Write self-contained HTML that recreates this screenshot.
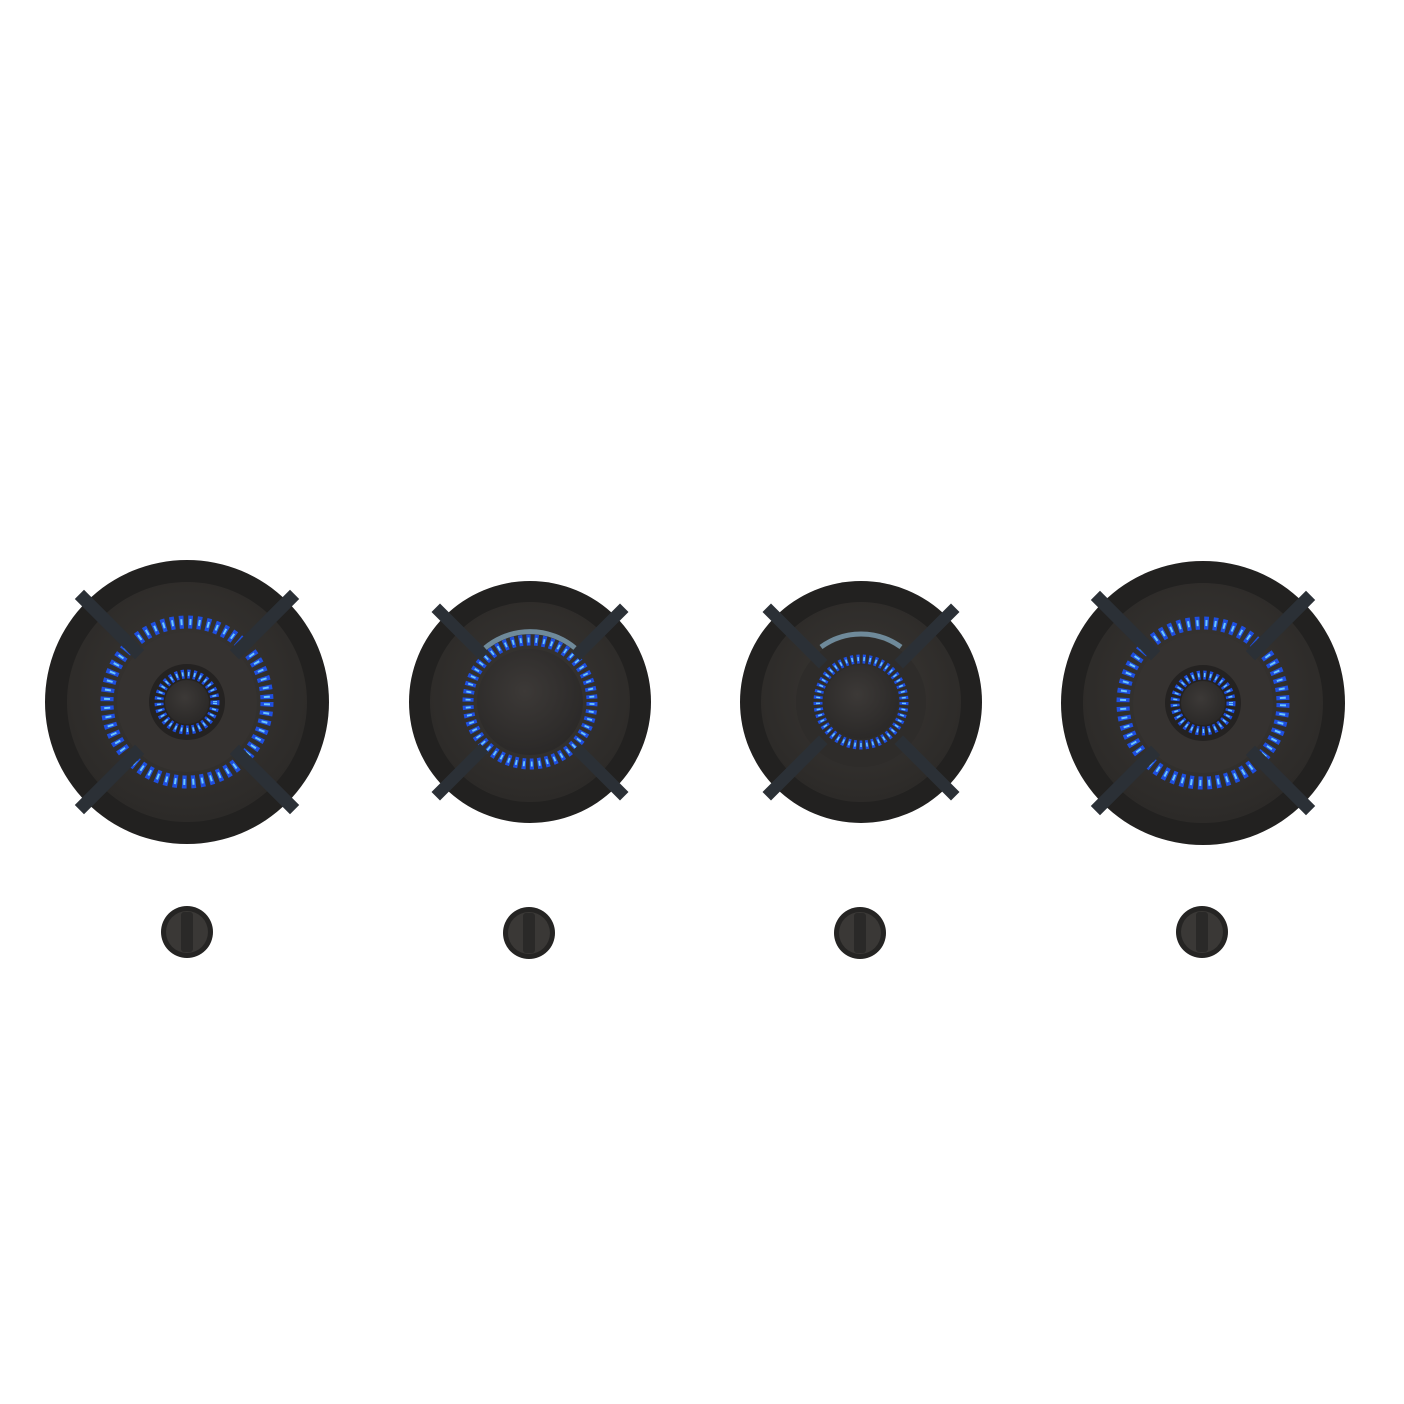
<!DOCTYPE html>
<html><head><meta charset="utf-8"><style>html,body{margin:0;padding:0;background:#fff}svg{display:block}</style></head>
<body>
<svg width="1404" height="1404" viewBox="0 0 1404 1404" xmlns="http://www.w3.org/2000/svg">
<defs>
<radialGradient id="plate" cx="50%" cy="45%" r="55%">
<stop offset="0" stop-color="#3a3734"/><stop offset="1" stop-color="#2c2a28"/></radialGradient>
<radialGradient id="cap" cx="45%" cy="40%" r="60%">
<stop offset="0" stop-color="#3c3937"/><stop offset="1" stop-color="#2b2928"/></radialGradient>
<g id="bars">
<g stroke="#2b3036" stroke-width="13" stroke-linecap="square">
<line x1="-103" y1="-103" x2="-50" y2="-50"/>
<line x1="103" y1="-103" x2="50" y2="-50"/>
<line x1="-103" y1="103" x2="-50" y2="50"/>
<line x1="103" y1="103" x2="50" y2="50"/>
</g></g>
</defs>
<rect width="1404" height="1404" fill="#fff"/>

<!-- Big burner template drawn twice -->
<g transform="translate(187,702)">
<circle r="142" fill="#222120"/>
<circle r="120" fill="url(#plate)"/>
<circle r="80" fill="none" stroke="#1f4fe0" stroke-width="13" stroke-dasharray="4.5 4.5"/>
<circle r="80" fill="none" stroke="#6ac6ff" stroke-width="6" stroke-dasharray="2 7" stroke-dashoffset="-1.3"/>
<circle r="70" fill="#353230"/>
<circle r="38" fill="#242221"/>
<circle r="28" fill="none" stroke="#1f4fe0" stroke-width="9" stroke-dasharray="3 3"/>
<circle r="28" fill="none" stroke="#6ac6ff" stroke-width="4" stroke-dasharray="1.5 4.5" stroke-dashoffset="-0.7"/>
<circle r="22" fill="url(#cap)"/>
<g stroke="#2b3036" stroke-width="13" stroke-linecap="square">
<line x1="-103" y1="-103" x2="-52" y2="-52"/><line x1="103" y1="-103" x2="52" y2="-52"/>
<line x1="-103" y1="103" x2="-52" y2="52"/><line x1="103" y1="103" x2="52" y2="52"/></g>
</g>
<g transform="translate(1203,703)">
<circle r="142" fill="#222120"/>
<circle r="120" fill="url(#plate)"/>
<circle r="80" fill="none" stroke="#1f4fe0" stroke-width="13" stroke-dasharray="4.5 4.5"/>
<circle r="80" fill="none" stroke="#6ac6ff" stroke-width="6" stroke-dasharray="2 7" stroke-dashoffset="-1.3"/>
<circle r="70" fill="#353230"/>
<circle r="38" fill="#242221"/>
<circle r="28" fill="none" stroke="#1f4fe0" stroke-width="9" stroke-dasharray="3 3"/>
<circle r="28" fill="none" stroke="#6ac6ff" stroke-width="4" stroke-dasharray="1.5 4.5" stroke-dashoffset="-0.7"/>
<circle r="22" fill="url(#cap)"/>
<g stroke="#2b3036" stroke-width="13" stroke-linecap="square">
<line x1="-103" y1="-103" x2="-52" y2="-52"/><line x1="103" y1="-103" x2="52" y2="-52"/>
<line x1="-103" y1="103" x2="-52" y2="52"/><line x1="103" y1="103" x2="52" y2="52"/></g>
</g>

<!-- Burner 2 -->
<g transform="translate(530,702)">
<circle r="121" fill="#222120"/>
<circle r="100" fill="url(#plate)"/>
<path d="M-45,-54 A70,70 0 0 1 45,-54" fill="none" stroke="#6f8a9a" stroke-width="5"/>
<circle r="62" fill="none" stroke="#1f4fe0" stroke-width="11" stroke-dasharray="4 3.8"/>
<circle r="62" fill="none" stroke="#6ac6ff" stroke-width="5" stroke-dasharray="1.8 6" stroke-dashoffset="-1.1"/>
<circle r="53" fill="url(#cap)"/>
<g stroke="#2b3036" stroke-width="12" stroke-linecap="square">
<line x1="-90" y1="-90" x2="-50" y2="-50"/><line x1="90" y1="-90" x2="50" y2="-50"/>
<line x1="-90" y1="90" x2="-50" y2="50"/><line x1="90" y1="90" x2="50" y2="50"/></g>
</g>

<!-- Burner 3 -->
<g transform="translate(861,702)">
<circle r="121" fill="#222120"/>
<circle r="100" fill="url(#plate)"/>
<circle r="65" fill="#2e2c2a"/>
<path d="M-40,-55 A68,68 0 0 1 40,-55" fill="none" stroke="#6f8a9a" stroke-width="5"/>
<circle r="43" fill="none" stroke="#1f4fe0" stroke-width="9" stroke-dasharray="3 3"/>
<circle r="43" fill="none" stroke="#6ac6ff" stroke-width="4" stroke-dasharray="1.5 4.5" stroke-dashoffset="-0.7"/>
<circle r="37" fill="url(#cap)"/>
<g stroke="#2b3036" stroke-width="12" stroke-linecap="square">
<line x1="-90" y1="-90" x2="-42" y2="-42"/><line x1="90" y1="-90" x2="42" y2="-42"/>
<line x1="-90" y1="90" x2="-42" y2="42"/><line x1="90" y1="90" x2="42" y2="42"/></g>
</g>

<!-- Knobs -->
<g fill="#252423">
<circle cx="187" cy="932" r="26"/><circle cx="529" cy="933" r="26"/>
<circle cx="860" cy="933" r="26"/><circle cx="1202" cy="932" r="26"/>
</g>
<g fill="#3a3836">
<circle cx="187" cy="932" r="21"/><circle cx="529" cy="933" r="21"/>
<circle cx="860" cy="933" r="21"/><circle cx="1202" cy="932" r="21"/>
</g>
<g fill="#2a2928">
<rect x="181" y="912" width="12" height="40" rx="3"/><rect x="523" y="913" width="12" height="40" rx="3"/>
<rect x="854" y="913" width="12" height="40" rx="3"/><rect x="1196" y="912" width="12" height="40" rx="3"/>
</g>
</svg>
</body></html>
